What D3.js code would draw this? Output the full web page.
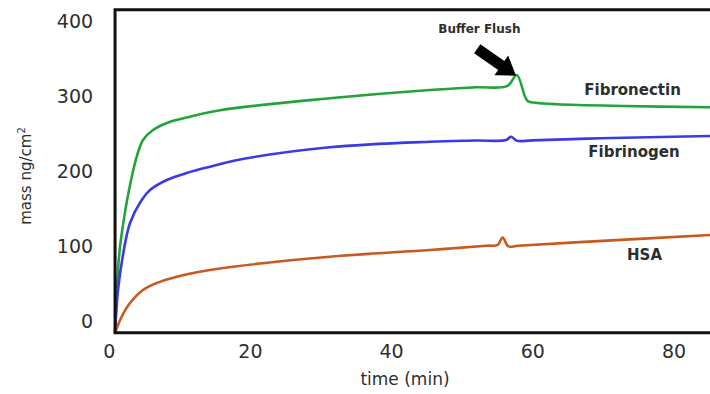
<!DOCTYPE html>
<html lang="en">
<head>
    <meta charset="UTF-8">
    <title>Protein adsorption</title>
    <script src="https://cdnjs.cloudflare.com/ajax/libs/d3/7.8.5/d3.min.js"></script>
    <style>
        body {
            margin: 0;
            padding: 0;
            background: #fff;
        }
        text {
            font-family: "DejaVu Sans", sans-serif;
            fill: #2e2e2e;
        }
    </style>
</head>
<body>
    <div id="chart"></div>

    <script>
        // tick labels
        const xTicks = [0, 20, 40, 60, 80];
        const yTicks = [0, 100, 200, 300, 400];

        // time (min) and mass (ng/cm2)
        const fibronectinTime = [0.9, 1.46, 2.07, 2.88, 3.97, 4.86, 6.27, 8.26, 11.5, 15.8, 31.3, 45.5, 52, 56.5, 57.8, 59.3, 60.5, 63.5, 72.9, 85.2];
        const fibronectinMass = [-14.7, 86.7, 131.6, 175.6, 220, 242.3, 255.6, 265, 273.3, 282, 297.9, 309, 312.5, 314.5, 329, 294.7, 292, 289.9, 287.6, 285.9];

        const fibrinogenTime = [0.9, 1.32, 1.98, 3.02, 4.67, 5.85, 8.22, 11.05, 14.35, 17.9, 31.3, 45.5, 52, 56.3, 57.0, 57.8, 60, 69.6, 85.2];
        const fibrinogenMass = [-14.7, 42.3, 86.7, 131.6, 162.3, 175.6, 189, 198.3, 206.7, 215, 232.5, 240, 241.5, 242.3, 246.7, 241.3, 241.8, 244.5, 247.6];

        const hsaTime = [0.9, 1.84, 3.02, 4.86, 6.8, 9.63, 12.9, 17.6, 31.3, 45.5, 53.5, 55.1, 55.8, 56.6, 58, 70, 85.2];
        const hsaMass = [-14.7, 6.7, 24.9, 42.3, 51.6, 60, 66.7, 73.3, 86.7, 95.6, 101.3, 102.3, 112.3, 100.5, 101.3, 107.8, 115.6];

        const seriesNames = ['Fibronectin', 'Fibrinogen', 'HSA'];
        const seriesColors = ['#23a33a', '#3a3ae6', '#c8591f'];

        const width = 710, height = 394;

        const x = d3.scaleLinear().domain([0, 80]).range([108.7, 673.5]);
        const y = d3.scaleLinear().domain([0, 400]).range([321.7, 21.7]);

        // frame limits (data units)
        const tMin = 0.9, tMax = 86, vMin = -14.7, vMax = 416;

        const svg = d3.select('#chart').append('svg')
            .attr('width', width)
            .attr('height', height);

        const series = [
            { name: seriesNames[0], color: seriesColors[0], pts: fibronectinTime.map((t, i) => [t, fibronectinMass[i]]), label: [74.2, 309] },
            { name: seriesNames[1], color: seriesColors[1], pts: fibrinogenTime.map((t, i) => [t, fibrinogenMass[i]]), label: [74.4, 226.5] },
            { name: seriesNames[2], color: seriesColors[2], pts: hsaTime.map((t, i) => [t, hsaMass[i]]), label: [75.9, 89] }
        ];

        const line = d3.line()
            .x(d => x(d[0]))
            .y(d => y(d[1]))
            .curve(d3.curveCatmullRom.alpha(0.5));

        svg.append('g')
            .selectAll('path')
            .data(series)
            .join('path')
            .attr('d', d => line(d.pts))
            .attr('fill', 'none')
            .attr('stroke', d => d.color)
            .attr('stroke-width', 2.6)
            .attr('stroke-linejoin', 'round');

        // frame: left, top, bottom (no right side)
        svg.append('path')
            .attr('d', `M${x(tMax)},${y(vMax)}H${x(tMin)}V${y(vMin)}H${x(tMax)}`)
            .attr('fill', 'none')
            .attr('stroke', '#111')
            .attr('stroke-width', 3);

        const yAxis = svg.append('g')
            .attr('transform', `translate(${x(tMin)},0)`)
            .call(d3.axisLeft(y).tickValues(yTicks).tickSize(0).tickPadding(22));
        yAxis.select('.domain').remove();
        yAxis.selectAll('text')
            .attr('font-size', 19)
            .attr('font-family', null);

        const xAxis = svg.append('g')
            .attr('transform', `translate(0,${y(vMin)})`)
            .call(d3.axisBottom(x).tickValues(xTicks).tickSize(0).tickPadding(12));
        xAxis.select('.domain').remove();
        xAxis.selectAll('text')
            .attr('font-size', 19)
            .attr('font-family', null);

        // axis titles
        svg.append('text')
            .attr('x', 405)
            .attr('y', 385)
            .attr('text-anchor', 'middle')
            .attr('font-size', 17)
            .text('time (min)');

        const yTitle = svg.append('text')
            .attr('transform', 'translate(31,176) rotate(-90)')
            .attr('text-anchor', 'middle')
            .attr('font-size', 15);
        yTitle.append('tspan').text('mass ng/cm');
        yTitle.append('tspan').attr('font-size', 10).attr('dy', -6).text('2');

        // series labels
        svg.append('g')
            .selectAll('text')
            .data(series)
            .join('text')
            .attr('x', d => x(d.label[0]))
            .attr('y', d => y(d.label[1]))
            .attr('dy', '0.35em')
            .attr('text-anchor', 'middle')
            .attr('font-size', 15)
            .attr('font-weight', 'bold')
            .text(d => d.name);

        // buffer flush annotation
        svg.append('text')
            .attr('x', x(52.5))
            .attr('y', y(390))
            .attr('dy', '0.35em')
            .attr('text-anchor', 'middle')
            .attr('font-size', 12)
            .attr('font-weight', 'bold')
            .text('Buffer Flush');

        const tip = [x(57.7), y(328)];
        const tail = [x(52.2), y(364)];
        const ang = Math.atan2(tip[1] - tail[1], tip[0] - tail[0]);
        const len = Math.hypot(tip[0] - tail[0], tip[1] - tail[1]);
        const headLen = 18, headW = 12, shaftW = 5.5;
        const arrow = [
            [0, -shaftW], [len - headLen, -shaftW], [len - headLen, -headW],
            [len, 0],
            [len - headLen, headW], [len - headLen, shaftW], [0, shaftW]
        ].map(([u, v]) => [
            tail[0] + u * Math.cos(ang) - v * Math.sin(ang),
            tail[1] + u * Math.sin(ang) + v * Math.cos(ang)
        ]);
        svg.append('path')
            .attr('d', 'M' + arrow.map(p => p.join(',')).join('L') + 'Z')
            .attr('fill', '#000');
    </script>
</body>
</html>
